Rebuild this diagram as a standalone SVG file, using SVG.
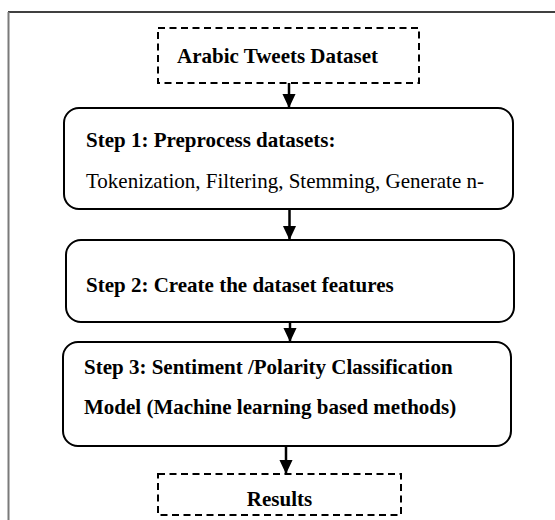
<svg xmlns="http://www.w3.org/2000/svg" width="555" height="520" viewBox="0 0 555 520">
<defs>
<style>
.box{fill:#fff;stroke:#000;stroke-width:2}
.dash{fill:#fff;stroke:#000;stroke-width:2;stroke-dasharray:7,4.5}
.t{font-family:"Liberation Serif","Times New Roman",serif;font-size:21px;fill:#000}
.b{font-weight:bold}
.c{stroke:#000;stroke-width:2.5;fill:none}
</style>
<marker id="ah" markerWidth="14" markerHeight="15" viewBox="0 0 15 14" refX="15" refY="7" orient="auto" markerUnits="userSpaceOnUse">
<path d="M0,0 L15,7 L0,14 Z" fill="#000"/>
</marker>
</defs>
<rect width="555" height="520" fill="#fff"/>
<g id="frame">
<line x1="8" y1="12" x2="555" y2="12" stroke="#000" stroke-width="1.5"/>
<line x1="8.5" y1="12" x2="8.5" y2="520" stroke="#7a7a7a" stroke-width="2"/>
</g>
<g id="connectors">
<line class="c" x1="289" y1="83" x2="289" y2="108" marker-end="url(#ah)"/>
<line class="c" x1="289.5" y1="209" x2="289.5" y2="240" marker-end="url(#ah)"/>
<line class="c" x1="290" y1="322" x2="290" y2="342" marker-end="url(#ah)"/>
<line class="c" x1="286" y1="446" x2="286" y2="474" marker-end="url(#ah)"/>
</g>
<g id="input">
<rect class="dash" x="158" y="28" width="261" height="55"/>
<text class="t b" x="177" y="63">Arabic Tweets Dataset</text>
</g>
<g id="step1">
<rect class="box" x="64" y="108" width="449" height="101" rx="15"/>
<text class="t b" x="86" y="147">Step 1: Preprocess datasets:</text>
<text class="t" x="86" y="188">Tokenization, Filtering, Stemming, Generate n-</text>
</g>
<g id="step2">
<rect class="box" x="66" y="240" width="448" height="82" rx="15"/>
<text class="t b" x="86" y="292">Step 2: Create the dataset features</text>
</g>
<g id="step3">
<rect class="box" x="63" y="342" width="448" height="104" rx="15"/>
<text class="t b" x="84" y="374">Step 3: Sentiment /Polarity Classification</text>
<text class="t b" x="84" y="414">Model (Machine learning based methods)</text>
</g>
<g id="results">
<rect class="dash" x="158" y="474" width="243" height="41"/>
<text class="t b" x="279.5" y="506" text-anchor="middle">Results</text>
</g>
</svg>
